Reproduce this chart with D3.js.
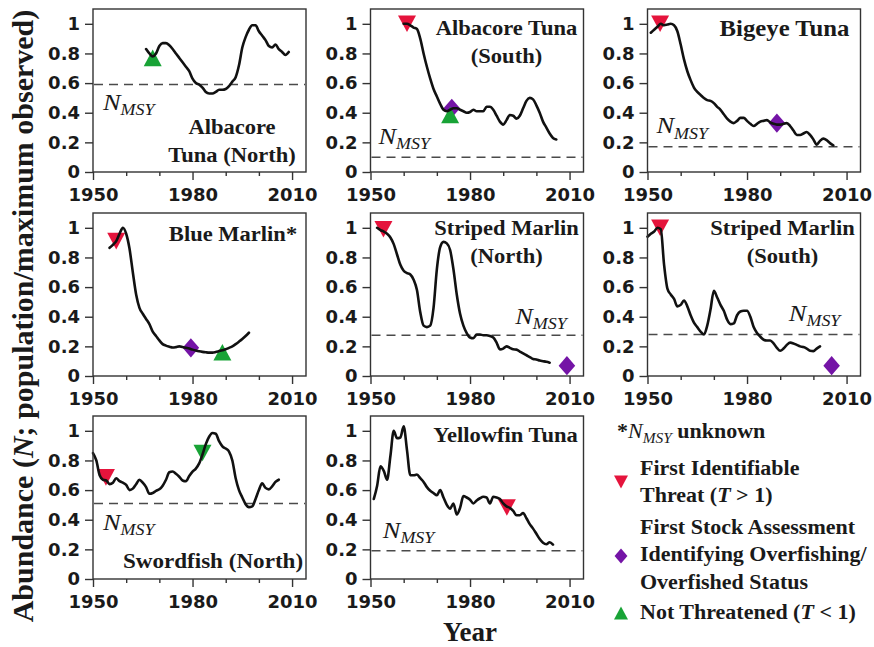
<!DOCTYPE html>
<html>
<head>
<meta charset="utf-8">
<script src="https://cdn.jsdelivr.net/npm/d3@7"></script>
<style>
  body { margin: 0; background: #fff; }
  svg { display: block; }
</style>
</head>
<body>
<svg id="chart" width="874" height="647"></svg>
<script>
// ---- Abundance series (N / maximum observed), one value per year ----
const albacoreNorthStart = 1966;
const albacoreNorth = [0.83, 0.80, 0.78, 0.80, 0.85, 0.87, 0.87, 0.855, 0.83, 0.80, 0.77, 0.74, 0.71, 0.68,
  0.63, 0.60, 0.59, 0.57, 0.54, 0.53, 0.53, 0.54, 0.555, 0.555, 0.56, 0.58, 0.61, 0.64, 0.72, 0.84,
  0.91, 0.96, 0.99, 0.99, 0.95, 0.92, 0.89, 0.85, 0.84, 0.86, 0.83, 0.81, 0.79, 0.81];

const albacoreSouthStart = 1960;
const albacoreSouth = [1.0, 1.0, 0.99, 0.975, 0.965, 0.90, 0.80, 0.71, 0.63, 0.56, 0.51, 0.46, 0.42, 0.41,
  0.42, 0.43, 0.43, 0.42, 0.41, 0.40, 0.405, 0.42, 0.41, 0.41, 0.41, 0.44, 0.44, 0.42, 0.38, 0.34,
  0.32, 0.35, 0.385, 0.38, 0.36, 0.38, 0.43, 0.48, 0.50, 0.49, 0.45, 0.40, 0.34, 0.30, 0.26, 0.23, 0.22];

const bigeyeStart = 1951;
const bigeye = [0.94, 0.96, 0.98, 1.0, 0.99, 0.995, 1.0, 0.99, 0.95, 0.86, 0.76, 0.68, 0.62, 0.57, 0.54,
  0.52, 0.50, 0.485, 0.48, 0.465, 0.44, 0.42, 0.39, 0.36, 0.34, 0.33, 0.345, 0.365, 0.365, 0.345,
  0.325, 0.31, 0.325, 0.34, 0.345, 0.35, 0.335, 0.325, 0.32, 0.32, 0.325, 0.33, 0.31, 0.28, 0.25,
  0.25, 0.26, 0.27, 0.25, 0.22, 0.185, 0.21, 0.225, 0.215, 0.195, 0.18];

const blueMarlinStart = 1955;
const blueMarlin = [0.865, 0.885, 0.91, 0.96, 1.0, 0.96, 0.86, 0.70, 0.55, 0.46, 0.42, 0.385, 0.35, 0.30,
  0.27, 0.24, 0.215, 0.205, 0.198, 0.192, 0.195, 0.20, 0.195, 0.19, 0.185, 0.178, 0.172, 0.167,
  0.163, 0.16, 0.158, 0.158, 0.162, 0.168, 0.174, 0.18, 0.19, 0.20, 0.215, 0.232, 0.25, 0.27, 0.292];

const stripedNorthStart = 1952;
const stripedNorth = [1.0, 0.985, 0.975, 0.96, 0.935, 0.89, 0.82, 0.75, 0.71, 0.695, 0.685, 0.65, 0.58,
  0.43, 0.34, 0.33, 0.34, 0.46, 0.72, 0.87, 0.905, 0.895, 0.85, 0.72, 0.55, 0.42, 0.34, 0.29, 0.26,
  0.255, 0.28, 0.28, 0.275, 0.275, 0.27, 0.26, 0.225, 0.18, 0.185, 0.20, 0.19, 0.18, 0.178, 0.165,
  0.152, 0.14, 0.128, 0.115, 0.112, 0.104, 0.10, 0.096, 0.09];

const stripedSouthStart = 1950;
const stripedSouth = [0.94, 0.96, 0.975, 1.0, 0.99, 0.75, 0.59, 0.55, 0.52, 0.47, 0.48, 0.51, 0.47, 0.41,
  0.36, 0.33, 0.30, 0.28, 0.34, 0.45, 0.575, 0.53, 0.48, 0.44, 0.38, 0.35, 0.355, 0.41, 0.435, 0.44,
  0.44, 0.40, 0.33, 0.29, 0.265, 0.245, 0.24, 0.24, 0.22, 0.19, 0.17, 0.185, 0.21, 0.225, 0.22,
  0.21, 0.20, 0.195, 0.185, 0.17, 0.168, 0.185, 0.20];

const swordfishStart = 1950;
const swordfish = [0.85, 0.80, 0.70, 0.67, 0.665, 0.64, 0.65, 0.68, 0.66, 0.65, 0.635, 0.60, 0.61, 0.64,
  0.67, 0.65, 0.62, 0.575, 0.58, 0.595, 0.605, 0.63, 0.67, 0.72, 0.725, 0.71, 0.69, 0.665, 0.66,
  0.695, 0.725, 0.745, 0.78, 0.84, 0.91, 0.96, 0.985, 0.98, 0.93, 0.895, 0.88, 0.86, 0.80, 0.68,
  0.60, 0.55, 0.505, 0.485, 0.49, 0.54, 0.60, 0.645, 0.615, 0.605, 0.625, 0.655, 0.67];

const yellowfinStart = 1951;
const yellowfin = [0.54, 0.63, 0.76, 0.73, 0.67, 0.83, 1.0, 0.95, 0.955, 1.03, 0.87, 0.70, 0.70, 0.705,
  0.68, 0.655, 0.62, 0.595, 0.58, 0.565, 0.60, 0.55, 0.50, 0.475, 0.51, 0.435, 0.48, 0.56, 0.55,
  0.535, 0.51, 0.53, 0.545, 0.555, 0.55, 0.51, 0.555, 0.55, 0.54, 0.51, 0.49, 0.48, 0.46, 0.43,
  0.43, 0.445, 0.41, 0.37, 0.34, 0.305, 0.27, 0.245, 0.235, 0.248, 0.232];

// ---- Panel names, N_MSY levels and status events ----
const panelTitles = [
  ["Albacore", "Tuna (North)"], ["Albacore Tuna", "(South)"], ["Bigeye Tuna"],
  ["Blue Marlin*"], ["Striped Marlin", "(North)"], ["Striped Marlin", "(South)"],
  ["Swordfish (North)"], ["Yellowfin Tuna"]
];
const nMsy = [0.59, 0.10, 0.17, null, 0.275, 0.28, 0.51, 0.19];

// [year, abundance, kind]  kind: threat, assessment, notThreatened, notThreatenedDown
const events = [
  [[1968, 0.77, "notThreatened"]],
  [[1961, 1.0, "threat"], [1974.5, 0.43, "assessment"], [1974, 0.385, "notThreatened"]],
  [[1953.8, 1.0, "threat"], [1989, 0.33, "assessment"]],
  [[1957, 0.91, "threat"], [1979.5, 0.19, "assessment"], [1989, 0.16, "notThreatened"]],
  [[1953.9, 0.99, "threat"], [2009.2, 0.07, "assessment"]],
  [[1953.8, 1.0, "threat"], [2005.5, 0.07, "assessment"]],
  [[1953.9, 0.686, "threat"], [1983, 0.85, "notThreatenedDown"]],
  [[1991.1, 0.483, "threat"]]
];

const yTicks = [0, 0.2, 0.4, 0.6, 0.8, 1];
const xTicks = [1950, 1960, 1970, 1980, 1990, 2000, 2010];
const xLabelled = [1950, 1980, 2010];

const legendItems = [
  { kind: "threat", lines: [["First Identifiable"], ["Threat (", ["T", "i"], " > 1)"]] },
  { kind: "assessment", lines: [["First Stock Assessment"], ["Identifying Overfishing/"], ["Overfished Status"]] },
  { kind: "notThreatened", lines: [["Not Threatened (", ["T", "i"], " < 1)"]] }
];

// ---- Layout ----
const series = [
  [albacoreNorthStart, albacoreNorth], [albacoreSouthStart, albacoreSouth], [bigeyeStart, bigeye],
  [blueMarlinStart, blueMarlin], [stripedNorthStart, stripedNorth], [stripedSouthStart, stripedSouth],
  [swordfishStart, swordfish], [yellowfinStart, yellowfin]
];
const colLeft = [93, 370.5, 647.5];
const rowTop = [9, 213, 416];
const W = 213, H = 163;
// title anchor inside each panel: [centre x offset, first baseline offset, font size]
const titlePos = [[139, 125, 20.5], [136, 26, 20.5], [137, 27, 22.5], [140, 28, 20.5],
                  [136, 22, 20.5], [135, 22, 20.5], [120, 152, 21], [135, 26, 20.5]];
const titleLineGap = 28;
// N_MSY label anchor in data units [year, value]
const nMsyLabelPos = [[1953, 0.42], [1952.4, 0.19], [1952.7, 0.26], null, [1993.6, 0.35], [1992.6, 0.37], [1953, 0.33], [1953.7, 0.28]];

const colors = { threat: "#e5143c", assessment: "#7414a6", notThreatened: "#18a336", notThreatenedDown: "#18a336" };
const serif = "'Liberation Serif', 'Times New Roman', serif";
const sans = "'DejaVu Sans', sans-serif";
const STRETCH = 1.1;

const svg = d3.select("#chart");

function markerPath(kind, s) {
  const w = s, h = s * 0.92;
  if (kind === "threat" || kind === "notThreatenedDown")
    return `M${-w/2},${-h/2}L${w/2},${-h/2}L0,${h/2}Z`;
  if (kind === "notThreatened")
    return `M${-w/2},${h/2}L${w/2},${h/2}L0,${-h/2}Z`;
  const dx = s * 0.46, dy = s * 0.53;
  return `M0,${-dy}L${dx},0L0,${dy}L${-dx},0Z`;
}

// serif text, slightly widened like the typeset figure
function serifText(parent, x, y, anchor, parts, size, weight) {
  const t = parent.append("text")
    .attr("transform", `translate(${x},${y}) scale(${STRETCH},1)`)
    .attr("text-anchor", anchor)
    .attr("font-family", serif).attr("font-size", size)
    .attr("font-weight", weight || "bold").attr("fill", "#1a1a1a");
  parts.forEach(p => {
    if (typeof p === "string") t.append("tspan").text(p);
    else t.append("tspan").attr("font-style", "italic").text(p[0]);
  });
  return t;
}

function nMsyText(parent, x, y, size) {
  const t = parent.append("text")
    .attr("transform", `translate(${x},${y}) scale(${STRETCH},1)`)
    .attr("font-family", serif).attr("font-style", "italic").attr("fill", "#1a1a1a");
  t.append("tspan").attr("font-size", size).text("N");
  t.append("tspan").attr("font-size", size * 0.68).attr("dy", size * 0.22).text("MSY");
  return t;
}

series.forEach(([start, vals], i) => {
  const left = colLeft[i % 3], top = rowTop[Math.floor(i / 3)];
  const g = svg.append("g").attr("transform", `translate(${left},${top})`);
  const x = d3.scaleLinear().domain([1950, 2014.2]).range([0, W]);
  const y = d3.scaleLinear().domain([0, 1.1]).range([H, 0]);

  // N_MSY reference level
  if (nMsy[i] !== null) {
    g.append("line")
      .attr("x1", 1).attr("x2", W - 1)
      .attr("y1", y(nMsy[i])).attr("y2", y(nMsy[i]))
      .attr("stroke", "#4a4a4a").attr("stroke-width", 1.5)
      .attr("stroke-dasharray", "9,6");
  }

  // status markers (under the line)
  g.selectAll("path.evt").data(events[i]).join("path")
    .attr("class", "evt")
    .attr("transform", d => `translate(${x(d[0])},${y(d[1])})`)
    .attr("d", d => markerPath(d[2], 18))
    .attr("fill", d => colors[d[2]]);

  // abundance trajectory
  const pts = vals.map((v, k) => [start + k, v]);
  g.append("path").datum(pts)
    .attr("fill", "none").attr("stroke", "#111").attr("stroke-width", 2.6)
    .attr("stroke-linejoin", "round").attr("stroke-linecap", "round")
    .attr("d", d3.line().x(d => x(d[0])).y(d => y(d[1])).curve(d3.curveMonotoneX));

  // frame
  g.append("rect").attr("width", W).attr("height", H)
    .attr("fill", "none").attr("stroke", "#333").attr("stroke-width", 1.4);

  // axes
  const ya = g.append("g").call(
    d3.axisLeft(y).tickValues(yTicks).tickSize(8).tickPadding(5)
      .tickFormat(d => (d === 0 || d === 1) ? String(d) : d3.format(".1f")(d)));
  const xa = g.append("g").attr("transform", `translate(0,${H})`).call(
    d3.axisBottom(x).tickValues(xTicks).tickSize(8).tickPadding(8)
      .tickFormat(d => xLabelled.includes(d) ? String(d) : ""));
  [ya, xa].forEach(a => {
    a.select(".domain").remove();
    a.selectAll("line").attr("stroke", "#333").attr("stroke-width", 1.4);
    a.selectAll("text").attr("font-family", sans).attr("font-weight", "bold")
      .attr("font-size", 18).attr("fill", "#1a1a1a");
  });
  xa.selectAll(".tick line").attr("y2", d => xLabelled.includes(d) ? 8 : 4);

  // titles
  panelTitles[i].forEach((line, k) => {
    serifText(g, titlePos[i][0], titlePos[i][1] + k * titleLineGap, "middle", [line], titlePos[i][2]);
  });

  // N_MSY label
  if (nMsyLabelPos[i]) {
    nMsyText(g, x(nMsyLabelPos[i][0]), y(nMsyLabelPos[i][1]), 24);
  }
});

// ---- shared axis titles ----
const yl = svg.append("text")
  .attr("transform", "translate(33,316) rotate(-90)")
  .attr("text-anchor", "middle")
  .attr("font-family", serif).attr("font-weight", "bold").attr("font-size", 30)
  .attr("fill", "#1a1a1a");
yl.append("tspan").text("Abundance (");
yl.append("tspan").attr("font-style", "italic").text("N");
yl.append("tspan").text("; population/maximum observed)");

svg.append("text")
  .attr("x", 470).attr("y", 641).attr("text-anchor", "middle")
  .attr("font-family", serif).attr("font-weight", "bold").attr("font-size", 27)
  .attr("fill", "#1a1a1a").text("Year");

// ---- legend ----
const lg = svg.append("g");
{
  const t = lg.append("text")
    .attr("transform", `translate(617,438) scale(${STRETCH},1)`)
    .attr("font-family", serif).attr("font-size", 20).attr("fill", "#1a1a1a");
  t.append("tspan").attr("font-weight", "bold").text("*");
  t.append("tspan").attr("font-style", "italic").text("N");
  t.append("tspan").attr("font-style", "italic").attr("font-size", 14).attr("dy", 5).text("MSY");
  t.append("tspan").attr("font-weight", "bold").attr("dy", -5).text(" unknown");
}
const legendBaselines = [[475, 502], [534, 561, 589], [619]];
const legendMarkerY = [482, 556, 613];
legendItems.forEach((item, i) => {
  lg.append("path")
    .attr("transform", `translate(621,${legendMarkerY[i]})`)
    .attr("d", markerPath(item.kind, 14))
    .attr("fill", colors[item.kind]);
  item.lines.forEach((parts, k) => {
    serifText(lg, 640, legendBaselines[i][k], "start", parts, 20);
  });
});
</script>
</body>
</html>
